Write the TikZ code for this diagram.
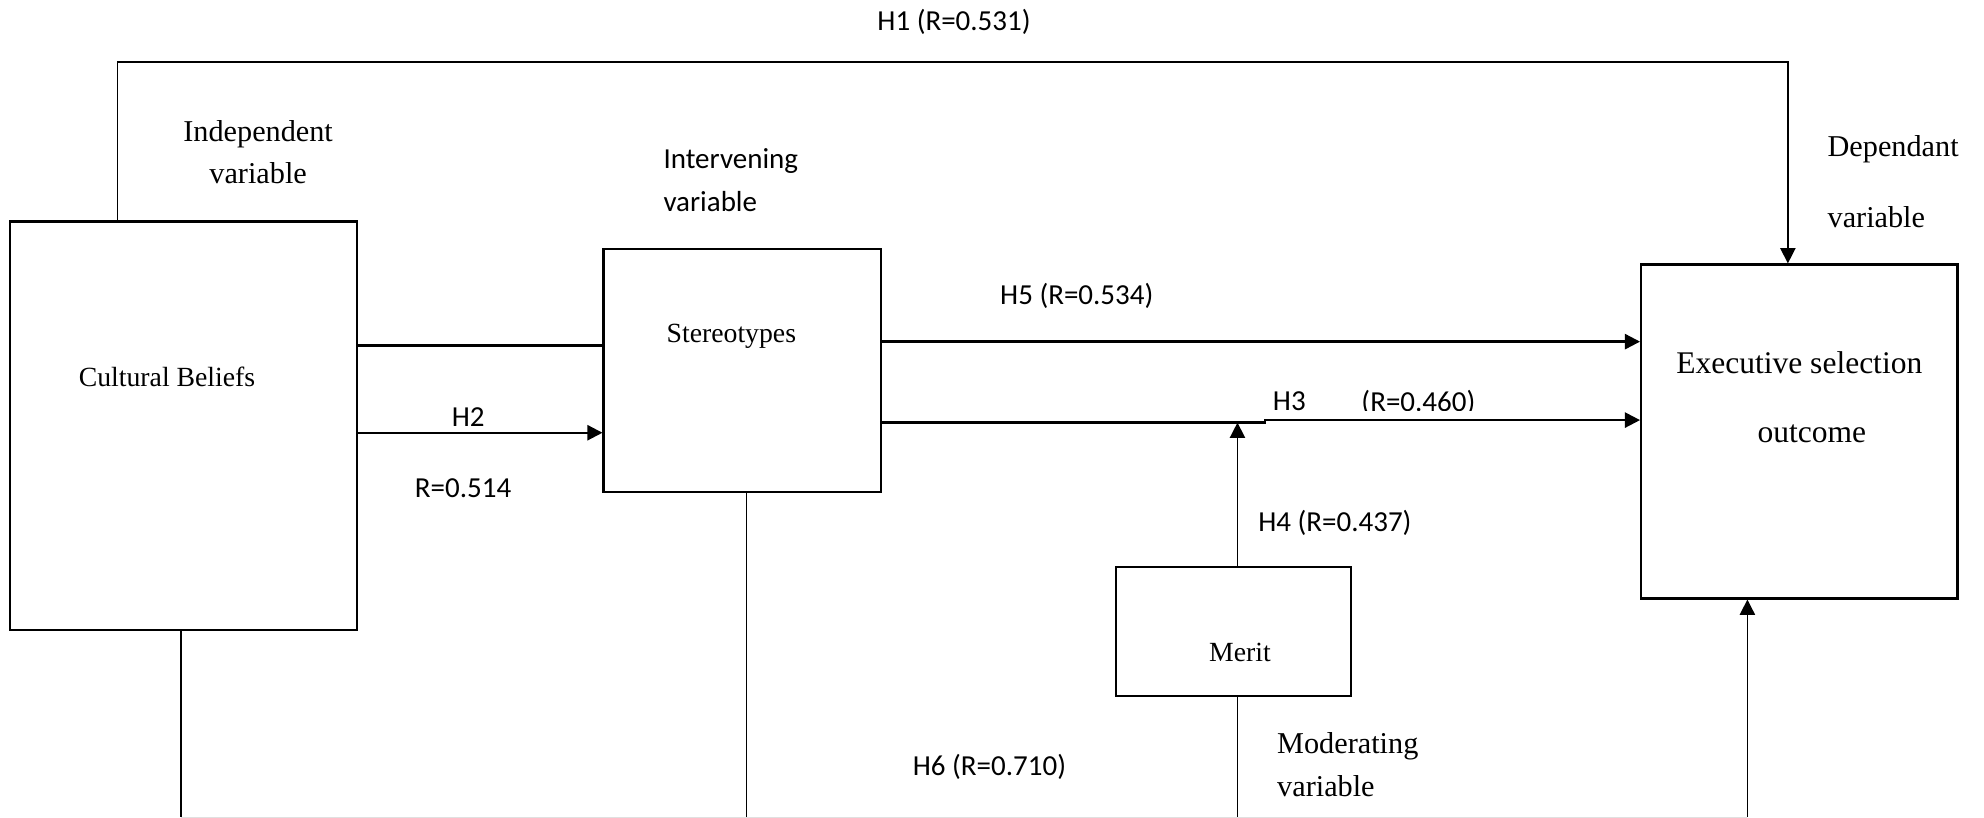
\documentclass[tikz,border=0pt]{standalone}
\usepackage{fontspec}
\setmainfont{Liberation Serif}
\newfontfamily\labfont{Carlito}
\usetikzlibrary{arrows.meta,fit}
\begin{document}
\begin{tikzpicture}[x=0.5bp,y=-0.5bp,
  box/.style={draw, line width=0.85bp, inner sep=0pt},
  conn/.style={line width=0.9bp},
  thinln/.style={line width=0.55bp},
  tip/.style={-{Triangle[length=6bp,width=6bp]}},
  serif/.style={font=\fontsize{11}{13}\selectfont, inner sep=0pt},
  bigserif/.style={font=\fontsize{12}{14}\selectfont, inner sep=0pt},
  sans/.style={font=\labfont\fontsize{11.5}{13}\selectfont, inner sep=0pt}]
\useasboundingbox (0,0) rectangle (1568,646);

% boxes
\node[box, fit={(8,175)(282,498)}] (cb) {};
\node[box, fit={(477,197)(696,389)}] (st) {};
\node[box, fit={(882,448)(1068,550)}] (me) {};
\node[box, fit={(1297,209)(1547,473)}] (ex) {};

% box texts
\node[serif] (tcb) at (132,298) {Cultural Beliefs};
\node[serif] (tst) at (578,266) {Stereotypes};
\node[serif] (tme) at (980,516) {Merit};
\node[font=\fontsize{12.5}{14}\selectfont, inner sep=0pt] (tex1) at (1422,287) {Executive selection};
\node[font=\fontsize{12.5}{14}\selectfont, inner sep=0pt] (tex2) at (1432,343) {outcome};

% variable labels
\node[bigserif] (ind1) at (204,106) {Independent};
\node[bigserif] (ind2) at (204,137) {variable};
\node[sans, anchor=west] (int1) at (524,127) {Intervening};
\node[sans, anchor=west] (int2) at (524,159) {variable};
\node[bigserif, anchor=west] (dep1) at (1444,118) {Dependant};
\node[bigserif, anchor=west] (dep2) at (1444,172) {variable};
\node[bigserif, anchor=west] (mod1) at (1009,590) {Moderating};
\node[bigserif, anchor=west] (mod2) at (1009,621) {variable};

% hypothesis labels
\node[sans] (lh1) at (754,17) {H1 (R=0.531)};
\node[sans] (lh5) at (851,234) {H5 (R=0.534)};
\node[sans] (lh2) at (370,330) {H2};
\node[sans] (lr2) at (366,386) {R=0.514};
\node[sans] (lh3) at (1019,317) {H3};
\begin{scope}
\clip (1060,300) rectangle (1200,324.5);
\node[sans] (lr3) at (1121,318.5) {(R=0.460)};
\end{scope}
\node[sans] (lh4) at (1055,413) {H4 (R=0.437)};
\node[sans] (lh6) at (782,606) {H6 (R=0.710)};

% helper coordinates
\coordinate (x93) at (93,49);
\coordinate (x1413) at (1413,49);
\coordinate (y270) at (0,270);
\coordinate (y273) at (0,273);
\coordinate (y342) at (0,342);
\coordinate (y334) at (0,334);
\coordinate (y332) at (0,332);
\coordinate (k1) at (1000,334);
\coordinate (k2) at (1000,332);
\coordinate (x978) at (978,0);
\coordinate (b143) at (143,646);
\coordinate (b590) at (590,646);
\coordinate (b978) at (978,646);
\coordinate (b1381) at (1381,646);

% H1
\draw[thinln, tip] (x93 |- cb.north) -- (x93) -- (x1413) -- (x1413 |- ex.north);
% Cultural -> Stereotypes
\draw[conn] (cb.east |- y273) -- (st.west |- y273);
\draw[conn, tip] (cb.east |- y342) -- (st.west |- y342);
% H5
\draw[conn, tip] (st.east |- y270) -- (ex.west |- y270);
% H3
\draw[conn, tip] (st.east |- y334) -- (k1) -- (k2) -- (ex.west |- y332);
% H4
\draw[thinln, tip] (x978 |- me.north) -- (x978 |- y334);
% H6 bottom lines
\draw[thinln] (b143 |- cb.south) -- (b143);
\draw[thinln] (b590 |- st.south) -- (b590);
\draw[thinln] (b978 |- me.south) -- (b978);
\draw[thinln, tip] (b1381) -- (b1381 |- ex.south);
\draw[black!12, line width=0.5bp] (b143) -- (b1381);
\end{tikzpicture}
\end{document}
